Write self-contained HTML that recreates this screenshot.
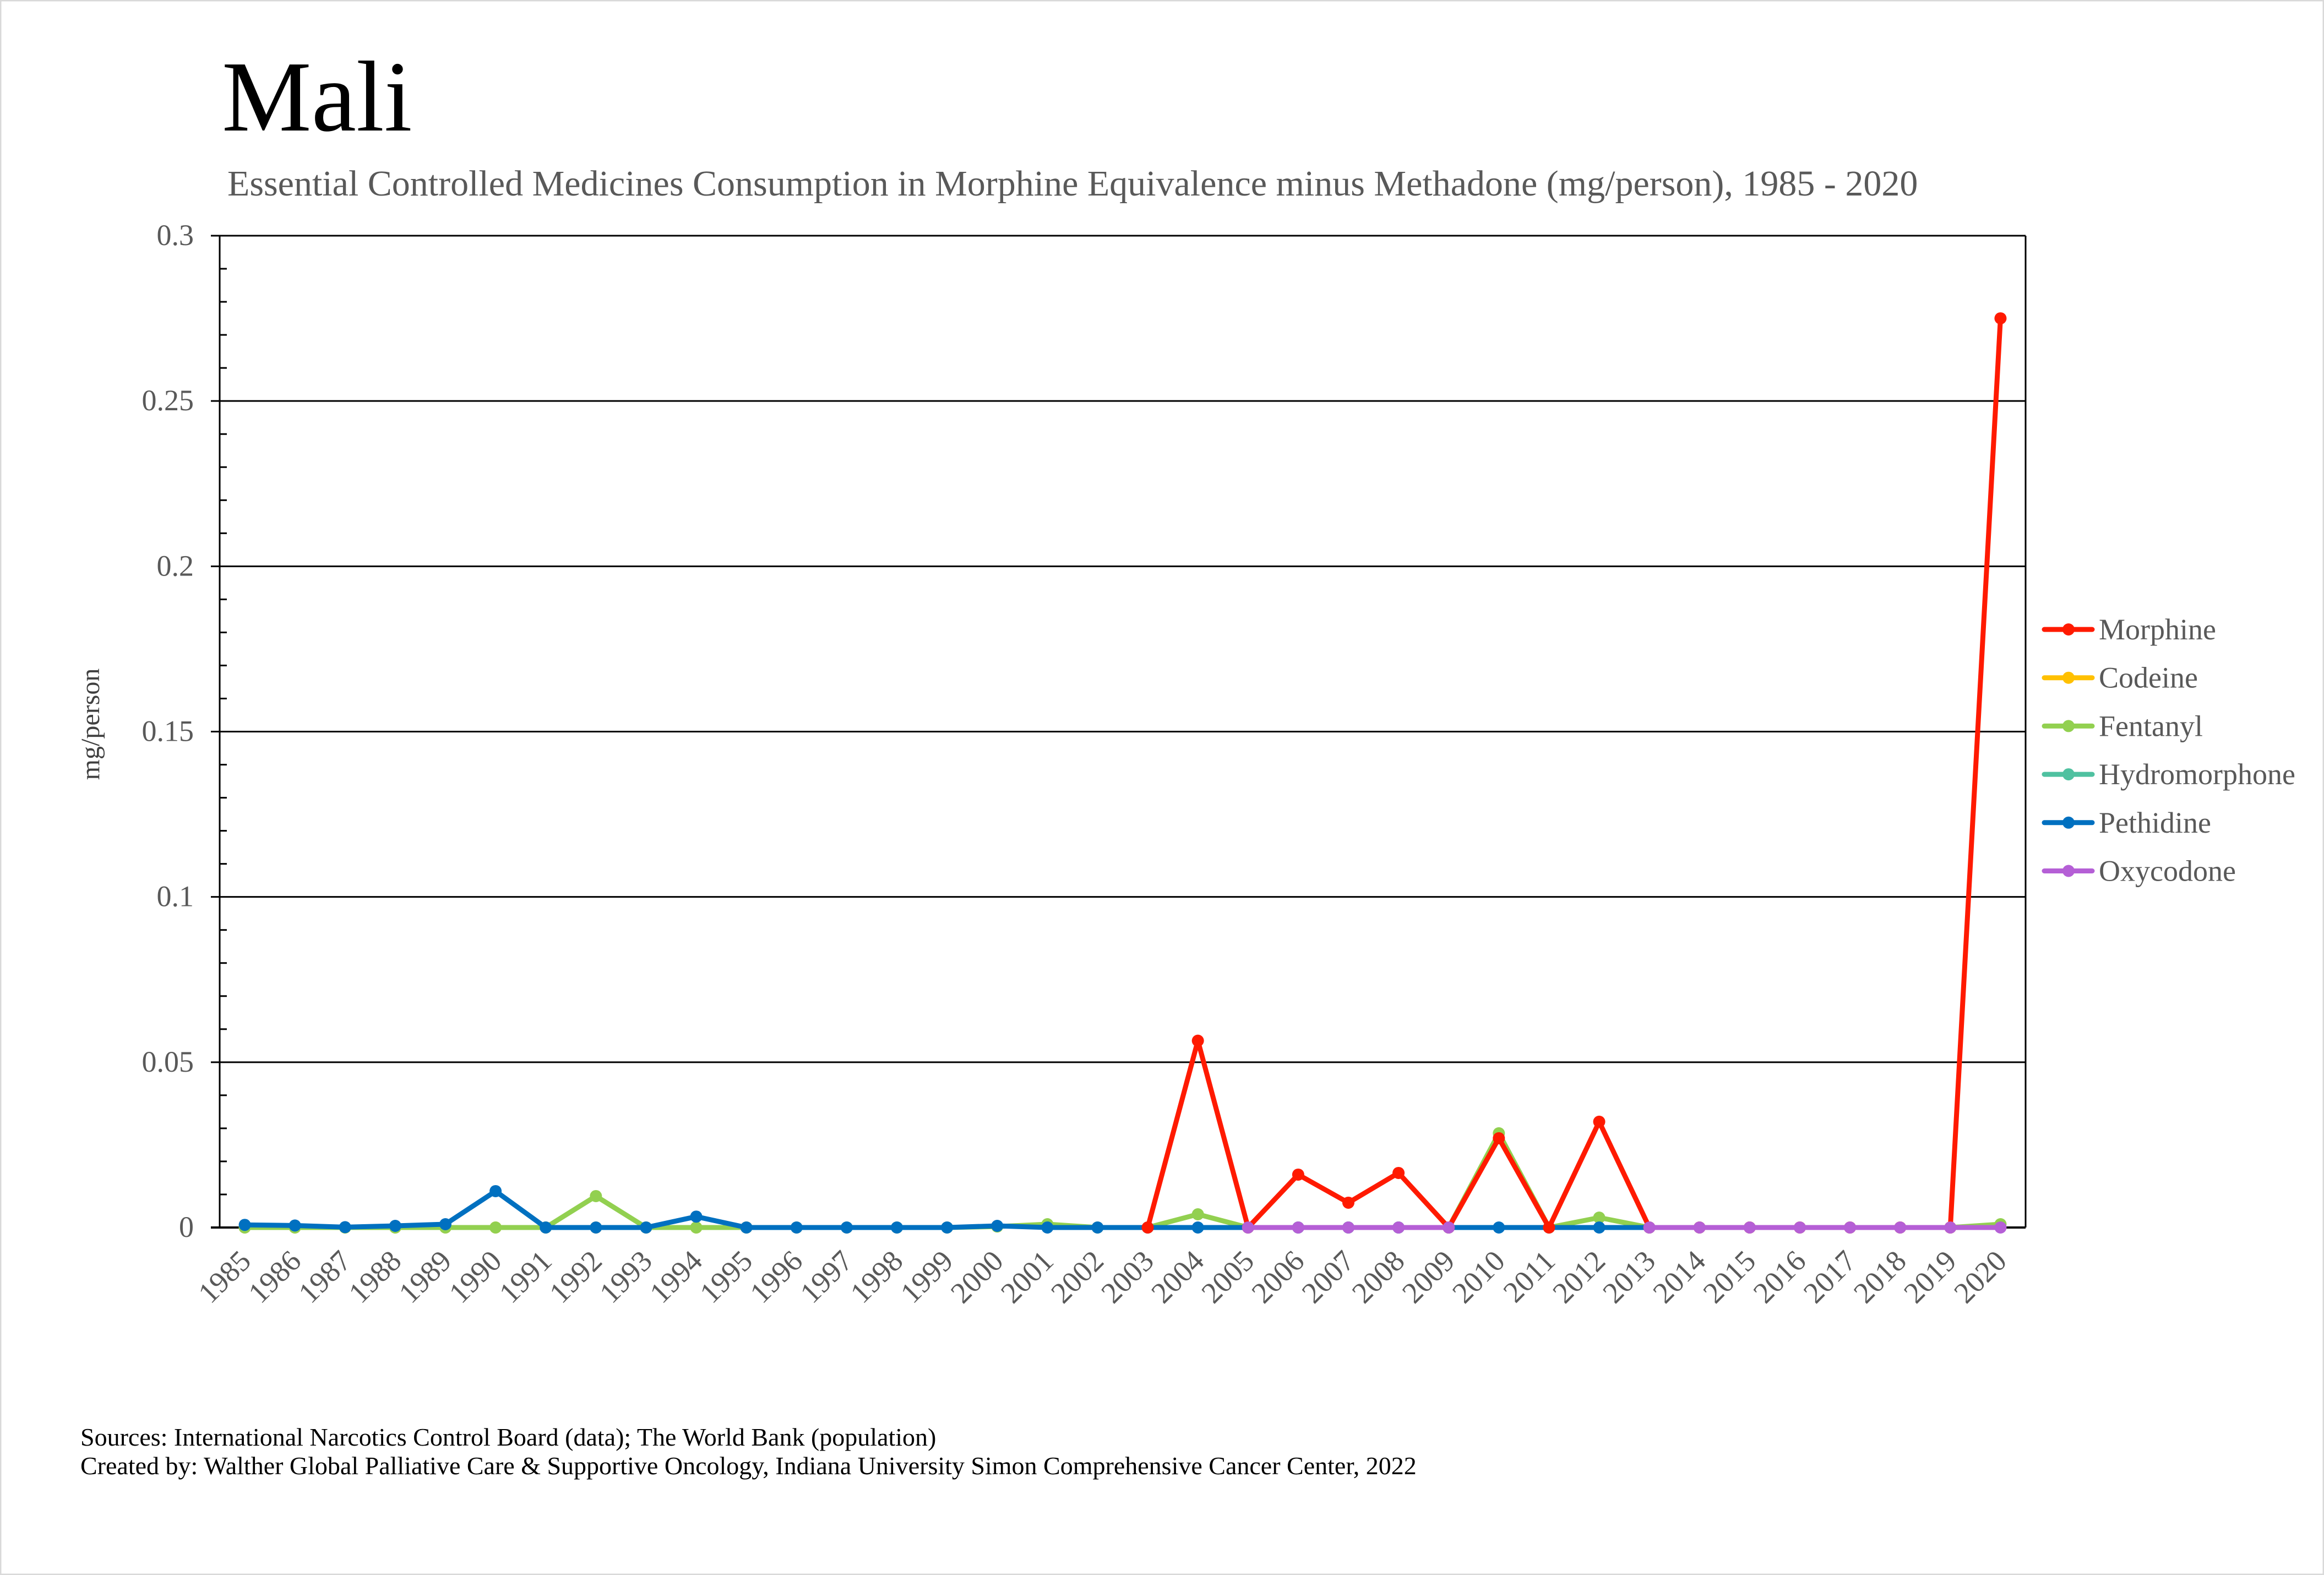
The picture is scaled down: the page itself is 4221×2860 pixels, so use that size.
<!DOCTYPE html>
<html><head><meta charset="utf-8"><style>
html,body{margin:0;padding:0;background:#fff;}
svg{display:block;}
text{font-family:"Liberation Serif","Times New Roman",serif;}
</style></head><body>
<svg id="s" width="4221" height="2860" viewBox="0 0 4221 2860" xmlns="http://www.w3.org/2000/svg">
<rect x="1" y="1" width="4219" height="2858" fill="#fff" stroke="#d9d9d9" stroke-width="3"/>
<text x="403" y="237" font-size="183" fill="#000">Mali</text>
<text x="413" y="355" font-size="66" fill="#595959">Essential Controlled Medicines Consumption in Morphine Equivalence minus Methadone (mg/person), 1985 - 2020</text>
<text transform="translate(180,1315) rotate(-90)" font-size="48" fill="#404040" text-anchor="middle">mg/person</text>
<text x="146" y="2625" font-size="46" fill="#000">Sources: International Narcotics Control Board (data); The World Bank (population)</text>
<text x="146" y="2677" font-size="46" fill="#000">Created by: Walther Global Palliative Care &amp; Supportive Oncology, Indiana University Simon Comprehensive Cancer Center, 2022</text>
<g id="grid"></g><g id="series"></g><g id="legend"></g>
</svg>
<script>
var NS="http://www.w3.org/2000/svg";
function el(p,t,a,txt){var e=document.createElementNS(NS,t);for(var k in a)e.setAttribute(k,a[k]);if(txt!==undefined)e.textContent=txt;document.getElementById(p).appendChild(e);return e;}
var L=399,R=3679,T=428,B=2229;
function X(i){return L+(R-L)/36*(i+0.5);}
function Y(v){return B-(B-T)/0.3*v;}
for(var k=1;k<=6;k++){var v=k*0.05,y=Y(v);el("grid","line",{x1:L-16,y1:y,x2:R,y2:y,stroke:"#000","stroke-width":3});}
for(var k=0;k<=6;k++){var y=Y(k*0.05);el("grid","text",{x:352,y:y+17,"font-size":54,fill:"#595959","text-anchor":"end"},["0","0.05","0.1","0.15","0.2","0.25","0.3"][k]);}
for(var m=0;m<30;m++){if(m%5==0)continue;var y=Y(m*0.01);el("grid","line",{x1:L,y1:y,x2:L+13,y2:y,stroke:"#000","stroke-width":3});}
el("grid","line",{x1:L,y1:T,x2:L,y2:B,stroke:"#000","stroke-width":3});
el("grid","line",{x1:R,y1:T,x2:R,y2:B,stroke:"#000","stroke-width":3});
el("grid","line",{x1:L-16,y1:B,x2:R,y2:B,stroke:"#000","stroke-width":4});
for(var i=0;i<36;i++){var x=X(i)+14,y=B+64;el("grid","text",{transform:"translate("+x+","+y+") rotate(-45)","font-size":54,fill:"#595959","text-anchor":"end"},String(1985+i));}
function series(c,segs){segs.forEach(function(s){var st=s[0],vals=s[1];var pts=vals.map(function(v,j){return X(st+j).toFixed(1)+","+Y(v).toFixed(1);}).join(" ");
el("series","polyline",{points:pts,fill:"none",stroke:c,"stroke-width":9,"stroke-linejoin":"round","stroke-linecap":"round"});
vals.forEach(function(v,j){el("series","circle",{cx:X(st+j),cy:Y(v),r:11,fill:c});});});}
var z=function(n){var a=[];for(var i=0;i<n;i++)a.push(0);return a;};
series("#ffc000",[[0,z(11)]]);
series("#92d050",[[0,[0,0,0,0,0,0,0,0.0095,0,0,0,0,0,0,0,0.0003,0.001,0,0,0.004,0,0,0,0,0,0.0285,0,0.003,0,0,0,0,0,0,0,0.001]]]);
series("#0070c0",[[0,[0.0008,0.0006,0.0001,0.0005,0.001,0.011,0,0,0,0.0033,0,0,0,0,0,0.0005,0,0,0,0,0,0,0,0,0,0,0,0,0]]]);
series("#ff1a00",[[18,[0,0.0565,0,0.016,0.0075,0.0165,0,0.027,0,0.032,0,0,0,0,0,0,0,0.275]]]);
series("#b55fd6",[[20,z(5)],[28,z(8)]]);
var items=[["Morphine","#ff1a00"],["Codeine","#ffc000"],["Fentanyl","#92d050"],["Hydromorphone","#4fc1a0"],["Pethidine","#0070c0"],["Oxycodone","#b55fd6"]];
items.forEach(function(it,i){var y=1143+i*87.7;
el("legend","line",{x1:3713,y1:y,x2:3800,y2:y,stroke:it[1],"stroke-width":9,"stroke-linecap":"round"});
el("legend","circle",{cx:3757,cy:y,r:11,fill:it[1]});
el("legend","text",{x:3812,y:y+18,"font-size":54,fill:"#595959"},it[0]);});
</script>
</body></html>
